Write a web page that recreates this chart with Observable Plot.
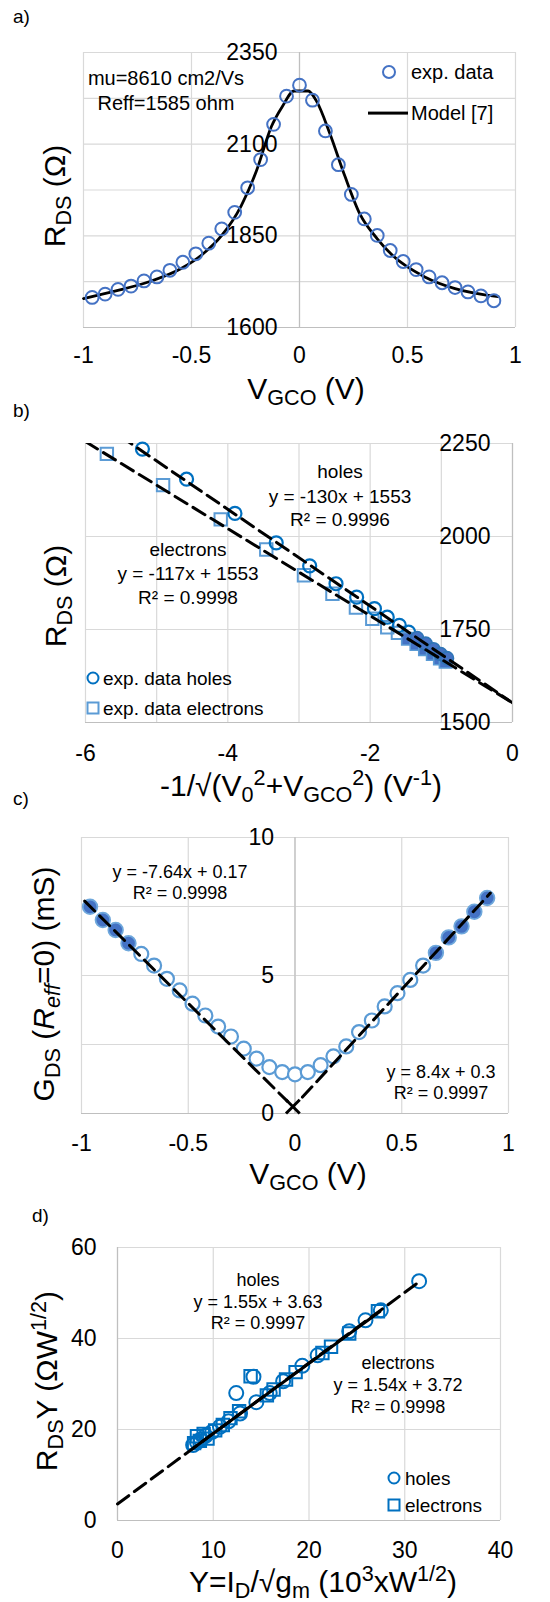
<!DOCTYPE html>
<html><head><meta charset="utf-8">
<script src="https://cdn.jsdelivr.net/npm/d3@7"></script>
<script src="https://cdn.jsdelivr.net/npm/@observablehq/plot@0.6"></script>
<style>
body{margin:0;background:#fff;}
#page{position:relative;width:550px;height:1602px;overflow:hidden;font-family:"Liberation Sans",Arial,sans-serif;color:#000;}
#page svg{position:absolute;left:0;}
.t{position:absolute;white-space:nowrap;line-height:1;}
.t sub{font-size:0.72em;vertical-align:-0.28em;line-height:0;}
.t sup{font-size:0.72em;vertical-align:0.5em;line-height:0;}
.mk{position:absolute;box-sizing:border-box;transform:translate(-50%,-50%);}
</style></head><body><div id="page"></div>
<script>
// ---------- Panel a : R_DS vs V_GCO ----------
const aTicksX = [-1, -0.5, 0, 0.5, 1];
const aTicksY = [1600, 1850, 2100, 2350];
const aGridY = [1600, 1725, 1850, 1975, 2100, 2225, 2350];
const vGco = [-0.96,-0.9,-0.84,-0.78,-0.72,-0.66,-0.6,-0.54,-0.48,-0.42,-0.36,-0.3,-0.24,-0.18,-0.12,-0.06,0,0.06,0.12,0.18,0.24,0.3,0.36,0.42,0.48,0.54,0.6,0.66,0.72,0.78,0.84,0.9];
const rdsExp = [1682,1691,1704,1713,1727,1738,1756,1778,1801,1830,1869,1914,1981,2058,2154,2231,2261,2220,2136,2044,1963,1896,1851,1810,1780,1758,1738,1722,1709,1697,1686,1673];
const modelV = [-1,-0.85,-0.7,-0.55,-0.45,-0.36,-0.27,-0.2,-0.13,-0.08,-0.025,0.04,0.08,0.14,0.21,0.28,0.36,0.43,0.58,0.72,0.92];
const modelR = [1679,1700,1724,1760,1799,1851,1932,2026,2148,2202,2245,2245,2216,2130,2013,1909,1842,1797,1738,1706,1684];

// ---------- Panel b : R_DS vs -1/sqrt(V0^2+VGCO^2) ----------
const bTicksX = [-6, -4, -2, 0];
const bGridX = [-6, -5, -4, -3, -2, -1, 0];
const bTicksY = [1500, 1750, 2000, 2250];
const holesBx = [-5.2,-4.58,-3.9,-3.32,-2.85,-2.48,-2.19,-1.94,-1.76,-1.59,-1.46,-1.34,-1.22,-1.11,-1.01,-0.92];
const holesBy = [2235,2154,2062,1983,1921,1873,1837,1806,1783,1761,1743,1727,1712,1697,1684,1673];
const holesBfilled = [0,0,0,0,0,0,0,0,0,0,0,1,1,1,1,1];
const elecBx = [-5.7,-4.91,-4.1,-3.46,-2.93,-2.53,-2.2,-1.97,-1.76,-1.61,-1.47,-1.35,-1.23,-1.12,-1.02,-0.94];
const elecBy = [2222,2138,2046,1965,1896,1846,1809,1779,1756,1741,1725,1711,1697,1684,1672,1663];
const elecBfilled = [0,0,0,0,0,0,0,0,0,0,1,1,1,1,1,1];
const bFitSlope = [-130, -117];
const bFitIntercept = [1553, 1553];
const bFitRange = [[-6, 0], [-6, 0]];

// ---------- Panel c : G_DS vs V_GCO ----------
const cTicksX = [-1, -0.5, 0, 0.5, 1];
const cTicksY = [0, 5, 10];
const cGridY = [0, 2.5, 5, 7.5, 10];
const gdsExp = [7.49,7.01,6.65,6.17,5.78,5.36,4.88,4.46,3.98,3.55,3.15,2.79,2.35,1.99,1.68,1.5,1.42,1.5,1.75,2.07,2.43,2.95,3.37,3.88,4.36,4.84,5.36,5.82,6.38,6.78,7.31,7.81];
const gdsFilled = [1,1,1,1,0,0,0,0,0,0,0,0,0,0,0,0,0,0,0,0,0,0,0,0,0,0,0,1,1,1,1,1];
const cFitSlope = [-7.64, 8.4];
const cFitIntercept = [0.17, 0.3];
const cFitRange = [[-0.985, -0.035], [0.035, 0.915]];
const crossV = [-0.01];
const crossG = [0.25];

// ---------- Panel d : R_DS*Y vs Y ----------
const dTicksX = [0, 10, 20, 30, 40];
const dTicksY = [0, 20, 40, 60];
const holesDx = [7.9,8.3,8.7,9.2,9.9,10.7,11.6,12.4,12.8,14.2,14.5,15.9,17.3,19.3,20.9,24.2,25.9,27.5,31.5];
const holesDy = [16.6,17.2,17.8,18.6,19.5,20.6,21.8,28.0,23.5,31.6,26.0,28.0,30.6,34.0,36.3,41.6,44.0,46.2,52.6];
const elecDx = [8.0,8.3,8.6,9.0,9.4,10.2,11.0,11.8,12.7,13.9,15.6,16.3,17.6,18.6,21.4,22.3,24.2,27.2];
const elecDy = [17.0,18.5,17.5,19.0,18.0,19.8,21.0,22.5,24.0,31.7,27.5,28.8,31.0,32.6,36.8,38.2,41.1,46.0];
const dFitSlope = [1.55, 1.54];
const dFitIntercept = [3.63, 3.72];
const dFitRange = [[0, 31.5], [7.8, 27.4]];

// ---------- styling ----------
const FONT = '"Liberation Sans", Arial, sans-serif';
const GRID = "#d9d9d9";
const AXIS = "#bfbfbf";
const DASH = "14,7";
const page = document.getElementById("page");
const pts = (xs, ys, flags) => xs.map((x, i) => ({x, y: ys[i], f: flags ? flags[i] : 0}));
const fitLine = (m, b, r) => r.map(x => ({x, y: m * x + b}));
const baseStyle = {fontFamily: FONT, background: "transparent", overflow: "visible", color: "#000"};

function place(svg, top) { svg.style.top = top + "px"; page.appendChild(svg); }

// Panel a
place(Plot.plot({
  width: 550, height: 395, marginLeft: 83, marginRight: 35, marginTop: 52, marginBottom: 68,
  x: {domain: [-1, 1], axis: null}, y: {domain: [1600, 2350], axis: null},
  style: baseStyle,
  marks: [
    Plot.ruleX(aTicksX, {stroke: GRID, strokeWidth: 1.2}),
    Plot.ruleY(aGridY, {stroke: GRID, strokeWidth: 1.2}),
    Plot.ruleX([0], {stroke: AXIS, strokeWidth: 1.2}),
    Plot.ruleY([aGridY[0]], {stroke: AXIS, strokeWidth: 1.2}),
    Plot.text(aTicksY, {x: 0, y: d => d, text: d => String(d), textAnchor: "end", dx: -22, fontSize: 23, fill: "#000"}),
    Plot.text(aTicksX, {x: d => d, y: aGridY[0], dy: 28, text: d => String(d), fontSize: 23, fill: "#000"}),
    Plot.line(pts(modelV, modelR), {x: "x", y: "y", stroke: "#000", strokeWidth: 2.8, curve: "monotone-x"}),
    Plot.dot(pts(vGco, rdsExp), {x: "x", y: "y", r: 6.4, stroke: "#4472C4", strokeWidth: 2, fill: "none"})
  ]
}), 0);

// Panel b
const hb = pts(holesBx, holesBy, holesBfilled), eb = pts(elecBx, elecBy, elecBfilled);
place(Plot.plot({
  width: 550, height: 395, marginLeft: 85, marginRight: 38, marginTop: 48, marginBottom: 68,
  x: {domain: [-6, 0], axis: null}, y: {domain: [1500, 2250], axis: null},
  style: baseStyle,
  marks: [
    Plot.ruleX(bGridX, {stroke: GRID, strokeWidth: 1.2}),
    Plot.ruleY(bTicksY, {stroke: GRID, strokeWidth: 1.2}),
    Plot.ruleX([0], {stroke: AXIS, strokeWidth: 1.2}),
    Plot.ruleY([bTicksY[0]], {stroke: AXIS, strokeWidth: 1.2}),
    Plot.text(bTicksY, {x: 0, y: d => d, text: d => String(d), textAnchor: "end", dx: -22, fontSize: 23, fill: "#000"}),
    Plot.text(bTicksX, {x: d => d, y: bTicksY[0], dy: 31, text: d => String(d), fontSize: 23, fill: "#000"}),
    Plot.dot(eb.filter(d => !d.f), {x: "x", y: "y", symbol: "square", r: 7, stroke: "#5B9BD5", strokeWidth: 2, fill: "none"}),
    Plot.dot(hb.filter(d => !d.f), {x: "x", y: "y", r: 6.5, stroke: "#0070C0", strokeWidth: 2.2, fill: "none"}),
    Plot.dot(eb.filter(d => d.f), {x: "x", y: "y", symbol: "square", r: 7, stroke: "#5B9BD5", strokeWidth: 1.6, fill: "#4472C4"}),
    Plot.dot(hb.filter(d => d.f), {x: "x", y: "y", r: 6.5, stroke: "#2E75B6", strokeWidth: 1.6, fill: "#4472C4"}),
    ...bFitSlope.map((m, i) => Plot.line(fitLine(m, bFitIntercept[i], bFitRange[i]), {x: "x", y: "y", stroke: "#000", strokeWidth: 3, strokeDasharray: DASH, clip: true}))
  ]
}), 395);

// Panel c
const gc = pts(vGco, gdsExp, gdsFilled);
place(Plot.plot({
  width: 550, height: 405, marginLeft: 81, marginRight: 42, marginTop: 52, marginBottom: 77,
  x: {domain: [-1, 1], axis: null}, y: {domain: [0, 10], axis: null},
  style: baseStyle,
  marks: [
    Plot.ruleX(cTicksX, {stroke: GRID, strokeWidth: 1.2}),
    Plot.ruleY(cGridY, {stroke: GRID, strokeWidth: 1.2}),
    Plot.ruleX([0], {stroke: AXIS, strokeWidth: 1.2}),
    Plot.ruleY([cGridY[0]], {stroke: AXIS, strokeWidth: 1.2}),
    Plot.text(cTicksY, {x: 0, y: d => d, text: d => String(d), textAnchor: "end", dx: -21, fontSize: 23, fill: "#000"}),
    Plot.text(cTicksX, {x: d => d, y: cGridY[0], dy: 30, text: d => String(d), fontSize: 23, fill: "#000"}),
    Plot.dot(gc.filter(d => !d.f), {x: "x", y: "y", r: 7, stroke: "#5B9BD5", strokeWidth: 2.2, fill: "#fff"}),
    Plot.dot(gc.filter(d => d.f), {x: "x", y: "y", r: 7.3, stroke: "#6FA8DC", strokeWidth: 1.8, fill: "#4472C4"}),
    ...cFitSlope.map((m, i) => Plot.line(fitLine(m, cFitIntercept[i], cFitRange[i]), {x: "x", y: "y", stroke: "#000", strokeWidth: 3, strokeDasharray: DASH})),
    Plot.dot(pts(crossV, crossG), {x: "x", y: "y", symbol: "times", r: 6.3, stroke: "#000", strokeWidth: 3})
  ]
}), 785);

// Panel d
place(Plot.plot({
  width: 550, height: 412, marginLeft: 117, marginRight: 50, marginTop: 57, marginBottom: 82,
  x: {domain: [0, 40], axis: null}, y: {domain: [0, 60], axis: null},
  style: baseStyle,
  marks: [
    Plot.ruleX(dTicksX, {stroke: GRID, strokeWidth: 1.2}),
    Plot.ruleY(dTicksY, {stroke: GRID, strokeWidth: 1.2}),
    Plot.ruleX([0], {stroke: AXIS, strokeWidth: 1.2}),
    Plot.ruleY([0], {stroke: AXIS, strokeWidth: 1.2}),
    Plot.text(dTicksY, {x: 0, y: d => d, text: d => String(d), textAnchor: "end", dx: -21, fontSize: 23, fill: "#000"}),
    Plot.text(dTicksX, {x: d => d, y: 0, dy: 30, text: d => String(d), fontSize: 23, fill: "#000"}),
    Plot.dot(pts(elecDx, elecDy), {x: "x", y: "y", symbol: "square", r: 7, stroke: "#0070C0", strokeWidth: 2, fill: "none"}),
    Plot.dot(pts(holesDx, holesDy), {x: "x", y: "y", r: 7, stroke: "#0070C0", strokeWidth: 2, fill: "none"}),
    Plot.line(fitLine(dFitSlope[0], dFitIntercept[0], dFitRange[0]), {x: "x", y: "y", stroke: "#000", strokeWidth: 3, strokeDasharray: DASH}),
    Plot.line(fitLine(dFitSlope[1], dFitIntercept[1], dFitRange[1]), {x: "x", y: "y", stroke: "#000", strokeWidth: 3})
  ]
}), 1190);

// ---------- text overlays ----------
function txt(html, x, y, size, opt = {}) {
  const d = document.createElement("div");
  d.className = "t";
  d.innerHTML = html;
  d.style.left = x + "px"; d.style.top = y + "px"; d.style.fontSize = size + "px";
  const tx = opt.anchor === "start" ? "0" : opt.anchor === "end" ? "-100%" : "-50%";
  d.style.transform = `translate(${tx},-50%)` + (opt.rotate ? " rotate(-90deg)" : "");
  page.appendChild(d);
}
function marker(kind, x, y, color, size) {
  const d = document.createElement("div");
  d.className = "mk";
  d.style.left = x + "px"; d.style.top = y + "px";
  if (kind === "line") {
    d.style.width = size + "px"; d.style.height = "2.8px"; d.style.background = color;
  } else {
    d.style.width = size + "px"; d.style.height = size + "px";
    d.style.border = `2px solid ${color}`;
    if (kind === "circle") d.style.borderRadius = "50%";
  }
  page.appendChild(d);
}

// panel labels
txt("a)", 13, 16, 19, {anchor: "start"});
txt("b)", 13, 410, 19, {anchor: "start"});
txt("c)", 13, 798, 19, {anchor: "start"});
txt("d)", 32, 1215, 19, {anchor: "start"});

// axis titles
txt("V<sub>GCO</sub> (V)", 306, 389, 30);
txt("R<sub>DS</sub> (Ω)", 55, 196, 30, {rotate: true});
txt("-1/√(V<sub>0</sub><sup>2</sup>+V<sub>GCO</sub><sup>2</sup>) (V<sup>-1</sup>)", 301, 786, 30);
txt("R<sub>DS</sub> (Ω)", 56, 596, 30, {rotate: true});
txt("V<sub>GCO</sub> (V)", 308, 1174, 30);
txt("G<sub>DS</sub> (<i>R<sub>eff</sub></i>=0) (mS)", 44, 984, 30, {rotate: true});
txt("Y=I<sub>D</sub>/√g<sub>m</sub> (10<sup>3</sup>xW<sup>1/2</sup>)", 323, 1582, 30);
txt("R<sub>DS</sub>Y (ΩW<sup>1/2</sup>)", 47, 1381, 30, {rotate: true});

// panel a annotations + legend
txt("mu=8610 cm2/Vs", 166, 78, 20);
txt("Reff=1585 ohm", 166, 103, 20);
marker("circle", 389, 72, "#4472C4", 14);
txt("exp. data", 411, 72, 20, {anchor: "start"});
marker("line", 388, 113, "#000", 40);
txt("Model [7]", 411, 113, 20, {anchor: "start"});

// panel b annotations + legend
txt("holes", 340, 471, 19);
txt("y = -130x + 1553", 340, 496, 19);
txt("R² = 0.9996", 340, 519, 19);
txt("electrons", 188, 549, 19);
txt("y = -117x + 1553", 188, 573, 19);
txt("R² = 0.9998", 188, 597, 19);
marker("circle", 93, 678, "#0070C0", 13);
txt("exp. data holes", 103, 678, 19, {anchor: "start"});
marker("square", 93, 708, "#5B9BD5", 13);
txt("exp. data electrons", 103, 708, 19, {anchor: "start"});

// panel c annotations
txt("y = -7.64x + 0.17", 180, 872, 18);
txt("R² = 0.9998", 180, 893, 18);
txt("y = 8.4x + 0.3", 441, 1072, 18);
txt("R² = 0.9997", 441, 1093, 18);

// panel d annotations + legend
txt("holes", 258, 1280, 18);
txt("y = 1.55x + 3.63", 258, 1302, 18);
txt("R² = 0.9997", 258, 1323, 18);
txt("electrons", 398, 1363, 18);
txt("y = 1.54x + 3.72", 398, 1385, 18);
txt("R² = 0.9998", 398, 1407, 18);
marker("circle", 394, 1478, "#0070C0", 13);
txt("holes", 405, 1478, 19, {anchor: "start"});
marker("square", 394, 1505, "#0070C0", 13);
txt("electrons", 405, 1505, 19, {anchor: "start"});
</script></body></html>
